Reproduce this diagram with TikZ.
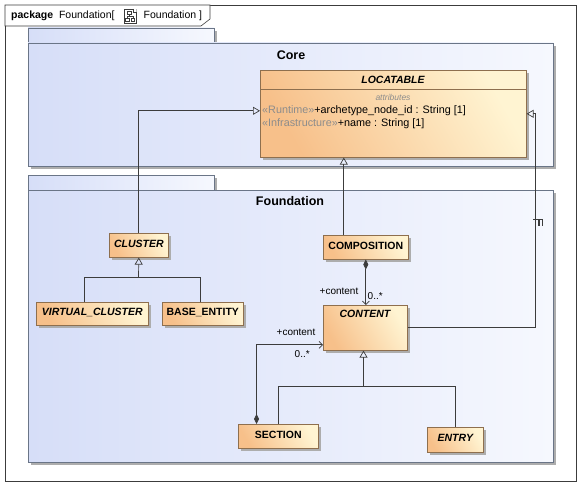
\documentclass[tikz,border=0pt]{standalone}
\usepackage{fontspec}
\setmainfont{Liberation Sans}
\usetikzlibrary{arrows.meta,shadows,calc}
\definecolor{pkgL}{HTML}{D6DEF8}
\definecolor{pkgR}{HTML}{F6F8FE}
\definecolor{pkgB}{HTML}{6A7587}
\definecolor{shadowc}{HTML}{ADADAD}
\definecolor{clsL}{HTML}{F7C08A}
\definecolor{clsR}{HTML}{FFF4D2}
\definecolor{clsB}{HTML}{8E6F4E}
\definecolor{lineC}{HTML}{3C3C3C}
\definecolor{stereo}{HTML}{8C8C8C}
\begin{document}
\begin{tikzpicture}[x=1pt,y=-1pt,
  cls/.style={draw=clsB, line width=0.6pt, left color=clsL, right color=clsR, shading angle=120,
    drop shadow={shadow xshift=2.5pt, shadow yshift=-2.5pt, fill=shadowc, opacity=1},
    inner sep=0pt, anchor=north west, text height=7.5pt, text depth=4pt,
    font=\fontsize{10.5}{12}\selectfont\bfseries},
  pkg/.style={draw=pkgB, line width=0.6pt, left color=pkgL, right color=pkgR},
  pkgshadow/.style={fill=shadowc},
  lbl/.style={font=\fontsize{10}{12}\selectfont, inner sep=0pt, text=black},
  conn/.style={draw=lineC, line width=0.7pt},
  gen/.style={conn, -{Triangle[open, length=7pt, width=8pt]}},
  compo/.style={conn, {Diamond[length=10pt, width=5pt]}-{Straight Barb[length=3.5pt, width=7pt]}}
]
\useasboundingbox (0,0) rectangle (578,487);
\fill[white] (0,0) rectangle (578,487);

% outer frame
\draw[draw=lineC, line width=0.6pt] (5,5) rectangle (576,481);
\draw[draw=lineC, line width=0.6pt, fill=white] (5,5) -- (210,5) -- (210,19) -- (201,26) -- (5,26) -- cycle;
\node[lbl, anchor=west, font=\fontsize{10.5}{12}\selectfont] (hdrA) at (11,15.5) {\textbf{package}\ \ Foundation[};
\node[draw=lineC, line width=0.5pt, fill=white, minimum width=12pt, minimum height=14pt, inner sep=0pt, anchor=north west] (icon) at (124,9) {};
\fill[white] ($(icon.north east)+(-3.5,0)$) -- (icon.north east) -- ($(icon.north east)+(0,3.5)$) -- cycle;
\draw[lineC, line width=0.4pt] ($(icon.north east)+(-3.5,0)$) -- ($(icon.north east)+(-3.5,3.5)$) -- ($(icon.north east)+(0,3.5)$);
\draw[lineC, line width=0.4pt] (127.5,11.5) rectangle (131,14.5);
\draw[lineC, line width=0.4pt] (125.5,18) rectangle (129,21);
\draw[lineC, line width=0.4pt] (131,18) rectangle (134.5,21);
\draw[lineC, line width=0.4pt] (129.25,14.5) -- (129.25,16.3) (127.25,18) -- (127.25,16.3) -- (132.75,16.3) -- (132.75,18);
\node[lbl, anchor=west, font=\fontsize{10.5}{12}\selectfont] (hdrB) at (143.5,15.5) {Foundation ]};

% Core package
\fill[pkgshadow] (31,31) rectangle (217,46);
\fill[pkgshadow] (31,46) rectangle (556,169);
\draw[pkg] (28,28) rectangle (214,43);
\draw[pkg] (28,43) rectangle (553,166);
\node[lbl, font=\fontsize{12.5}{14}\selectfont\bfseries] (corelbl) at (291,55) {Core};

% Foundation package
\fill[pkgshadow] (31,178) rectangle (217,193);
\fill[pkgshadow] (31,193) rectangle (556,465);
\draw[pkg] (28,175) rectangle (214,190);
\draw[pkg] (28,190) rectangle (553,462);
\node[lbl, font=\fontsize{12.5}{14}\selectfont\bfseries] (foundlbl) at (290,201) {Foundation};

% LOCATABLE
\node[cls, minimum width=266pt, minimum height=87pt] (locatable) at (260,70) {};
\draw[clsB, line width=0.6pt] (260,89.5) -- (526,89.5);
\node[lbl, font=\fontsize{10.5}{12}\selectfont\bfseries\itshape] (locname) at (393,79.5) {LOCATABLE};
\node[lbl, font=\fontsize{8.5}{10}\selectfont\itshape, text=stereo] (attrs) at (393,97.5) {attributes};
\node[lbl, anchor=west, font=\fontsize{10.8}{12}\selectfont] (attr1) at (262,110.5) {\textcolor{stereo}{«Runtime»}+archetype\_node\_id : String [1]};
\node[lbl, anchor=west, font=\fontsize{10.8}{12}\selectfont] (attr2) at (262,124) {\textcolor{stereo}{«Infrastructure»}+name : String [1]};

% classes
\node[cls, minimum width=59pt, minimum height=24pt] (cluster) at (109,233) {\itshape CLUSTER};
\node[cls, minimum width=112pt, minimum height=23pt] (vc) at (36,302) {\itshape VIRTUAL\_CLUSTER};
\node[cls, minimum width=81pt, minimum height=23pt] (be) at (162,302) {BASE\_ENTITY};
\node[cls, minimum width=85pt, minimum height=24pt] (comp) at (323,235) {COMPOSITION};
\node[cls, minimum width=84pt, minimum height=45pt] (content) at (323,305) {};
\node[lbl, font=\fontsize{10.5}{12}\selectfont\bfseries\itshape] (contentlbl) at (365,314) {CONTENT};
\node[cls, minimum width=80pt, minimum height=24pt] (section) at (238,424) {SECTION};
\node[cls, minimum width=56pt, minimum height=25pt] (entry) at (427,427) {\itshape ENTRY};

% generalizations
\draw[gen] (cluster.north) |- ([yshift=3pt]locatable.west);
\coordinate (compUp) at ($(comp.north)+(-22,0)$);
\draw[gen] (compUp) -- (compUp |- locatable.south);
\coordinate (rt) at (535.5,0);
\draw[gen] (content.east) -| (rt |- locatable.east) -- (locatable.east);
% cross marker
\draw[conn, line width=1.2pt] (533,219.5) -- (543,219.5) (539,219.5) -- (539,225.5) (542.5,219.5) -- (542.5,225.5);

\coordinate (clJ) at (138.5,277.5);
\coordinate (vcT) at (84.5,302);
\coordinate (beT) at (200.5,302);
\draw[conn] (vcT) |- (clJ) -| (beT);
\draw[gen] (clJ) -- (cluster.south);

\coordinate (coJ) at (363.5,386.5);
\coordinate (secT) at (278.5,424);
\coordinate (entT) at (455.5,427);
\draw[conn] (secT) |- (coJ) -| (entT);
\draw[gen] (coJ) -- (coJ |- content.south);

% compositions
\draw[compo] (comp.south) -- (comp.south |- content.north);
\node[lbl, anchor=east] (c1role) at (358.5,291) {+content};
\node[lbl, anchor=west] (c1mult) at (367.5,296.5) {0..*};
\coordinate (secD) at (256.5,424);
\draw[compo] (secD) |- ([yshift=-17pt]content.west);
\node[lbl, anchor=east] (c2role) at (315.5,332) {+content};
\node[lbl, anchor=west] (c2mult) at (294.5,354) {0..*};
\end{tikzpicture}
\end{document}
